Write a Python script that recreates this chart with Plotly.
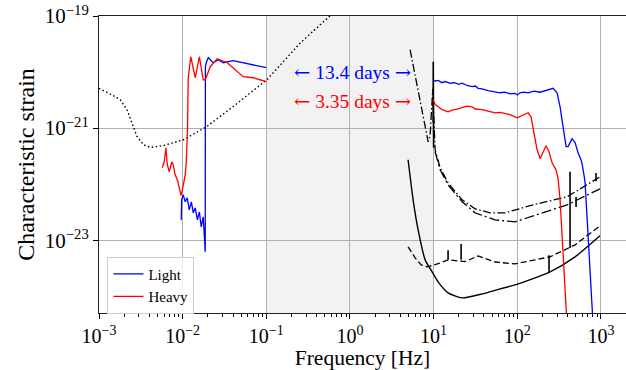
import numpy as np
import plotly.graph_objects as go

# ---- data (log10 frequency [Hz], log10 characteristic strain) ----
light_lo_logf = [-2.017, -2.012, -1.993, -1.969, -1.945, -1.921, -1.896, -1.873, -1.849, -1.824, -1.800,
                 -1.778, -1.754, -1.742, -1.730, -1.728, -1.718, -1.694, -1.634, -1.574, -1.515, -1.395, -1.0]
light_lo_logh = [-22.638, -22.280, -22.191, -22.316, -22.245, -22.459, -22.316, -22.513, -22.423, -22.638, -22.495,
                 -22.763, -22.584, -22.941, -23.209, -19.900, -19.834, -19.745, -19.834, -19.780, -19.834, -19.798, -19.923]

heavy_lo_logf = [-2.244, -2.232, -2.220, -2.200, -2.184, -2.160, -2.130, -2.115, -2.090, -2.060, -2.030, -2.020,
                 -2.005, -1.990, -1.969, -1.957, -1.950, -1.942, -1.933, -1.903, -1.849, -1.800, -1.754, -1.730,
                 -1.670, -1.587, -1.467, -1.395, -1.276, -1.156, -1.0]
heavy_lo_logh = [-21.709, -21.650, -21.600, -21.352, -21.650, -21.780, -21.602, -21.640, -21.830, -21.940, -22.120, -22.200,
                 -22.120, -21.990, -21.830, -21.620, -21.388, -21.030, -20.102, -19.727, -20.102, -19.727, -20.138, -20.138,
                 -19.905, -19.763, -19.834, -19.923, -20.084, -20.102, -20.173]

light_hi_logf = [0.994, 1.02, 1.054, 1.10, 1.138, 1.20, 1.25, 1.30, 1.341, 1.40, 1.461, 1.50, 1.532, 1.58, 1.65,
                 1.735, 1.795, 1.85, 1.915, 1.974, 2.0, 2.034, 2.08, 2.13, 2.20, 2.273, 2.392, 2.428, 2.476, 2.512,
                 2.548, 2.584, 2.607, 2.655, 2.691, 2.727, 2.763, 2.775, 2.799, 2.811, 2.834, 2.870, 2.894, 2.91]
light_hi_logh = [-20.138, -20.16, -20.15, -20.19, -20.17, -20.20, -20.19, -20.22, -20.20, -20.24, -20.26, -20.25, -20.29, -20.30, -20.33,
                 -20.35, -20.37, -20.36, -20.39, -20.38, -20.41, -20.37, -20.36, -20.37, -20.34, -20.36, -20.30, -20.29, -20.37, -20.62,
                 -20.98, -21.33, -21.33, -21.19, -21.26, -21.44, -21.57, -21.64, -21.85, -21.98, -22.58, -23.48, -24.30, -24.60]

heavy_hi_logf = [0.994, 1.02, 1.054, 1.10, 1.174, 1.22, 1.28, 1.341, 1.40, 1.461, 1.50, 1.58, 1.65, 1.735, 1.795,
                 1.915, 1.998, 2.058, 2.13, 2.165, 2.201, 2.237, 2.273, 2.309, 2.344, 2.380, 2.416, 2.464, 2.488,
                 2.512, 2.548, 2.584, 2.595]
heavy_hi_logh = [-20.495, -20.58, -20.62, -20.67, -20.71, -20.68, -20.66, -20.64, -20.61, -20.62, -20.66, -20.67, -20.70, -20.73, -20.72,
                 -20.76, -20.816, -20.78, -20.727, -20.798, -21.084, -21.388, -21.548, -21.441, -21.316, -21.423, -21.620, -21.745, -21.90,
                 -22.28, -23.17, -24.19, -24.50]

lisa_logf = [-3.0, -2.984, -2.865, -2.746, -2.665, -2.606, -2.546, -2.467, -2.387, -2.228, -1.989, -1.710, -1.395,
             -0.993, -0.595, -0.237]
lisa_logh = [-20.290, -20.304, -20.393, -20.495, -20.673, -20.905, -21.150, -21.298, -21.346, -21.311, -21.209, -20.971, -20.614,
             -20.138, -19.482, -18.995]

dashdot1_logf = [0.719, 0.827, 0.899, 0.935, 0.958, 0.976, 0.990, 1.018, 1.078, 1.173, 1.341, 1.496, 1.675, 1.854, 2.189, 2.595, 2.989]
dashdot1_logh = [-19.602, -20.405, -20.995, -21.245, -21.138, -20.673, -20.300, -21.388, -21.709, -21.977, -22.280, -22.441, -22.513, -22.513, -22.370, -22.227, -21.870]

dashdot2_logf = [1.018, 1.078, 1.173, 1.341, 1.496, 1.735, 1.974, 2.189, 2.595, 2.989]
dashdot2_logh = [-21.423, -21.745, -22.013, -22.316, -22.513, -22.638, -22.673, -22.566, -22.370, -22.084]

dashed_logf = [0.695, 0.779, 0.851, 0.923, 1.054, 1.173, 1.378, 1.532, 1.735, 1.974, 2.392, 2.691, 2.989]
dashed_logh = [-23.120, -23.316, -23.441, -23.477, -23.420, -23.352, -23.384, -23.280, -23.390, -23.423, -23.298, -23.084, -22.745]

solid_logf = [0.695, 0.755, 0.815, 0.899, 0.982, 1.054, 1.173, 1.341, 1.580, 1.795, 1.974, 2.392, 2.691, 2.989]
solid_logh = [-21.566, -22.280, -22.816, -23.352, -23.566, -23.745, -23.941, -24.030, -23.959, -23.870, -23.798, -23.566, -23.298, -22.923]

spike_logf = [0.994, 0.996, 1.0, None, 1.173, 1.173, None, 1.329, 1.329, None, 2.380, 2.380, None,
              2.631, 2.631, None, 2.703, 2.703, None, 2.942, 2.942]
spike_logh = [-20.9, -19.816, -21.35, None, -23.35, -23.18, None, -23.35, -23.07, None, -23.57, -23.27, None,
              -23.14, -21.78, None, -22.23, -22.41, None, -21.95, -21.80]

x_tick_exp = [-3, -2, -1, 0, 1, 2, 3]
y_tick_exp = [-19, -21, -23]
shade_band = [0.1, 10.0]
label_light = "Light"
label_heavy = "Heavy"
text_light = ["←", "13.4 days", "→"]
text_heavy = ["←", "3.35 days", "→"]


def pw(vals):
    return [None if v is None else 10 ** v for v in vals]


FONT = "Liberation Serif, serif"
ARROW_FONT = "DejaVu Serif"


def arrow_text(parts):
    a = '<span style="font-family:%s">%s</span>' % (ARROW_FONT, parts[0])
    b = '<span style="font-family:%s">%s</span>' % (ARROW_FONT, parts[2])
    return "%s %s %s" % (a, parts[1], b)


fig = go.Figure()

fig.add_shape(type="rect", xref="x", yref="paper", x0=shade_band[0], x1=shade_band[1], y0=0, y1=1,
              fillcolor="#f2f2f2", line_width=0, layer="below")

fig.add_trace(go.Scatter(x=pw(lisa_logf), y=pw(lisa_logh), mode="lines", showlegend=False,
                         line=dict(color="black", width=1.4, dash="1.5px,2.5px")))
fig.add_trace(go.Scatter(x=pw(dashdot1_logf), y=pw(dashdot1_logh), mode="lines", showlegend=False,
                         line=dict(color="black", width=1.3, dash="8px,2.5px,1.5px,2.5px")))
fig.add_trace(go.Scatter(x=pw(dashdot2_logf), y=pw(dashdot2_logh), mode="lines", showlegend=False,
                         line=dict(color="black", width=1.3, dash="10px,3px,2px,3px")))
fig.add_trace(go.Scatter(x=pw(dashed_logf), y=pw(dashed_logh), mode="lines", showlegend=False,
                         line=dict(color="black", width=1.3, dash="6px,3px")))
fig.add_trace(go.Scatter(x=pw(solid_logf), y=pw(solid_logh), mode="lines", showlegend=False,
                         line=dict(color="black", width=1.4, shape="spline", smoothing=0.6)))
fig.add_trace(go.Scatter(x=pw(spike_logf), y=pw(spike_logh), mode="lines", showlegend=False,
                         connectgaps=False, line=dict(color="black", width=1.6)))

fig.add_trace(go.Scatter(x=pw(light_lo_logf), y=pw(light_lo_logh), mode="lines", name=label_light,
                         line=dict(color="blue", width=1.3)))
fig.add_trace(go.Scatter(x=pw(light_hi_logf), y=pw(light_hi_logh), mode="lines", showlegend=False,
                         line=dict(color="blue", width=1.3)))
fig.add_trace(go.Scatter(x=pw(heavy_lo_logf), y=pw(heavy_lo_logh), mode="lines", name=label_heavy,
                         line=dict(color="red", width=1.3)))
fig.add_trace(go.Scatter(x=pw(heavy_hi_logf), y=pw(heavy_hi_logh), mode="lines", showlegend=False,
                         line=dict(color="red", width=1.3)))

fig.add_annotation(x=0.03, y=-20.01, xref="x", yref="y", text=arrow_text(text_light), showarrow=False,
                   font=dict(family=FONT, size=19.5, color="blue"))
fig.add_annotation(x=0.03, y=-20.53, xref="x", yref="y", text=arrow_text(text_heavy), showarrow=False,
                   font=dict(family=FONT, size=19.5, color="red"))

minor_x = [k * 10.0 ** e for e in range(-3, 4) for k in range(2, 10)]

fig.update_layout(
    width=626, height=370,
    margin=dict(l=99, r=0, t=16, b=57),
    plot_bgcolor="white", paper_bgcolor="white",
    font=dict(family=FONT, color="black"),
    legend=dict(x=0.016, y=0.19, xanchor="left", yanchor="top",
                bgcolor="rgba(255,255,255,0.8)", bordercolor="#cccccc", borderwidth=1,
                font=dict(family=FONT, size=15), tracegroupgap=0, itemwidth=30),
    xaxis=dict(type="log", range=[-3, 3.30],
               tickmode="array", tickvals=[10.0 ** e for e in x_tick_exp],
               ticktext=["10<sup>%s</sup>" % str(e).replace("-", "−") for e in x_tick_exp],
               ticks="outside", ticklen=5, tickcolor="black", tickwidth=1,
               showgrid=True, gridcolor="#b0b0b0", gridwidth=0.8,
               showline=True, linecolor="#222222", linewidth=1.1, mirror=True,
               minor=dict(tickmode="array", tickvals=minor_x, ticks="outside", ticklen=3,
                          tickcolor="black", tickwidth=0.8, showgrid=False),
               tickfont=dict(family=FONT, size=20),
               title=dict(text="Frequency [Hz]", font=dict(family=FONT, size=21.5), standoff=6),
               zeroline=False),
    yaxis=dict(type="log", range=[-24.30, -19.0],
               tickmode="array", tickvals=[10.0 ** e for e in y_tick_exp],
               ticktext=["10<sup>%s</sup>" % str(e).replace("-", "−") for e in y_tick_exp],
               ticks="outside", ticklen=5, tickcolor="black", tickwidth=1,
               showgrid=True, gridcolor="#b0b0b0", gridwidth=0.8,
               showline=True, linecolor="#222222", linewidth=1.1, mirror=False,
               tickfont=dict(family=FONT, size=21),
               title=dict(text="Characteristic strain", font=dict(family=FONT, size=24), standoff=3),
               zeroline=False),
)

fig.write_html("out.html")
